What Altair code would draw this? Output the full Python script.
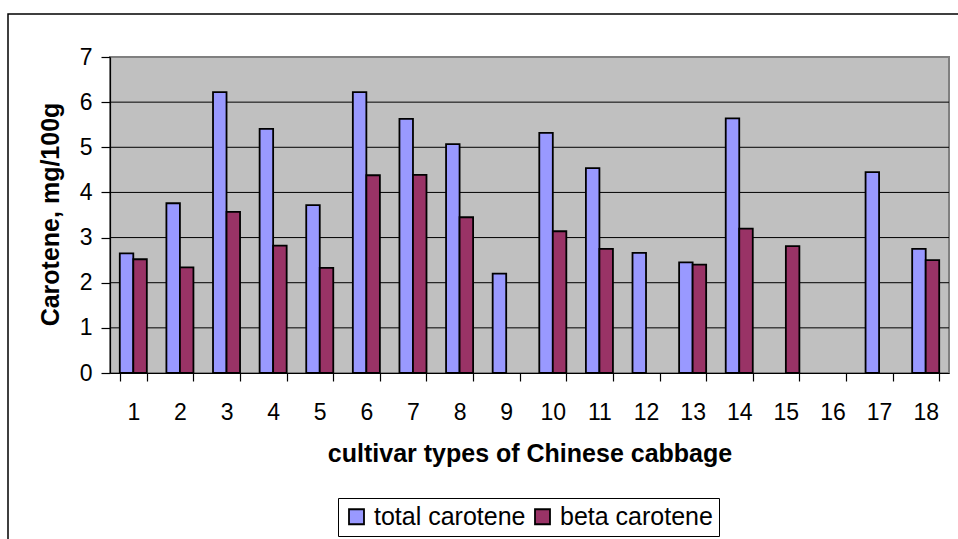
import altair as alt
import pandas as pd

CULTIVARS = [str(i) for i in range(1, 19)]
TOTAL = [2.65, 3.76, 6.22, 5.41, 3.72, 6.22, 5.63, 5.07, 2.20, 5.32, 4.54, 2.66, 2.45, 5.64, None, None, 4.45, 2.75]
BETA = [2.52, 2.34, 3.57, 2.82, 2.33, 4.38, 4.39, 3.45, None, 3.14, 2.75, None, 2.40, 3.20, 2.81, None, None, 2.50]
SERIES = ["total carotene", "beta carotene"]
COLORS = ["#9999FF", "#993366"]
Y_TICKS = [0, 1, 2, 3, 4, 5, 6, 7]
GRID_VALUES = [1, 2, 3, 4, 5, 6]

rows = []
for c, t, b in zip(CULTIVARS, TOTAL, BETA):
    if t is not None:
        rows.append({"cultivar": c, "series": SERIES[0], "value": t})
    if b is not None:
        rows.append({"cultivar": c, "series": SERIES[1], "value": b})
df = pd.DataFrame(rows)

FONT = "Liberation Sans"
W, H = 839, 316

yscale = alt.Scale(domain=[0, 7], nice=False)
yaxis = alt.Axis(
    title="Carotene, mg/100g",
    values=Y_TICKS,
    grid=False,
    tickSize=9,
    labelPadding=9,
    titleBaseline="alphabetic",
    titleX=-52,
    titleY=157,
    titleAngle=-90,
)

grid = alt.Chart(pd.DataFrame({"v": GRID_VALUES})).mark_rule(color="black", strokeWidth=1).encode(
    y=alt.Y("v:Q", scale=yscale, axis=yaxis)
)

bars = alt.Chart(df).mark_bar(stroke="black", strokeWidth=1.8, opacity=1).encode(
    x=alt.X(
        "cultivar:O",
        sort=CULTIVARS,
        scale=alt.Scale(domain=CULTIVARS, paddingInner=0.42, paddingOuter=0.21),
        axis=alt.Axis(
            title="cultivar types of Chinese cabbage",
            labelAngle=0,
            tickBand="extent",
            tickSize=8,
            labelPadding=20,
            titleBaseline="alphabetic",
            titleY=88,
        ),
    ),
    xOffset=alt.XOffset("series:N", sort=SERIES, scale=alt.Scale(domain=SERIES, paddingInner=0, paddingOuter=0)),
    y=alt.Y("value:Q", scale=yscale, axis=yaxis),
    color=alt.Color(
        "series:N",
        sort=SERIES,
        scale=alt.Scale(domain=SERIES, range=COLORS),
        legend=alt.Legend(
            title=None,
            orient="none",
            legendX=228,
            legendY=441,
            direction="horizontal",
            symbolType="square",
            symbolSize=225,
            symbolStrokeColor="black",
            symbolStrokeWidth=1.8,
            symbolOpacity=1,
            labelFontSize=25,
            labelFont=FONT,
            labelColor="black",
            labelOffset=5,
            columnPadding=4,
            padding=6,
            strokeColor="black",
            fillColor="white",
        ),
    ),
)

frame = alt.Chart(pd.DataFrame({"f": [0]})).mark_rect(
    fillOpacity=0, stroke="black", strokeWidth=1.5
).encode(
    x=alt.value(-102), y=alt.value(-43), x2=alt.value(1000), y2=alt.value(700)
)

chart = alt.layer(grid, bars, frame).properties(
    width=W,
    height=H,
    padding={"left": 110, "top": 57, "right": 9, "bottom": 166},
    autosize=alt.AutoSizeParams(type="none"),
    background="white",
).configure_view(
    fill="#C0C0C0", stroke="#808080", strokeWidth=2
).configure_axis(
    domainColor="black",
    domainWidth=1.2,
    tickColor="black",
    tickWidth=1.2,
    labelColor="black",
    labelFont=FONT,
    labelFontSize=23,
    titleFont=FONT,
    titleFontSize=25,
    titleFontWeight="bold",
    titleColor="black",
)

chart.save("out.html", embed_options={"renderer": "svg", "actions": False})
